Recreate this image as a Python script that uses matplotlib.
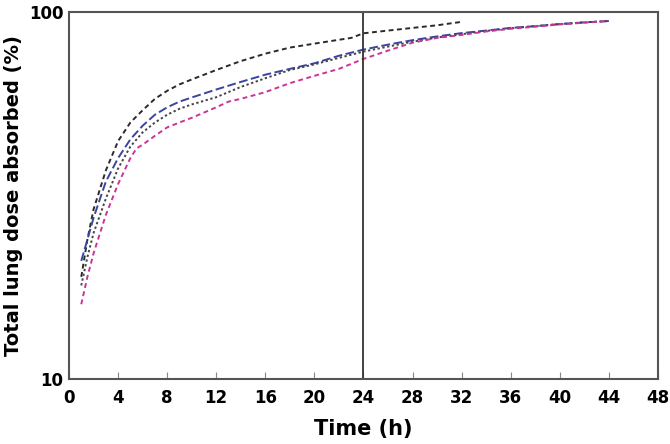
import matplotlib
matplotlib.use("Agg")
import matplotlib.pyplot as plt
from matplotlib.ticker import FixedLocator, NullLocator

plt.rcParams["font.family"] = ["DejaVu Sans"]
plt.rcParams["font.weight"] = "bold"

# time points (h) and % of total lung dose absorbed
t_a = [1, 1.5, 2, 3, 4, 5, 6, 7, 8, 9, 10, 12, 14, 16, 18, 20, 22, 23, 24, 26, 28, 30, 32]
dose_a = [19, 24, 29, 37, 44.5, 50, 54, 58, 61, 63.5, 65.5, 69.5, 73.5, 77, 80, 82, 84, 85,
          87.5, 89, 90.5, 92, 94]

t_b = [1, 1.5, 2, 3, 4, 5, 6, 7, 8, 9, 10, 12, 14, 16, 18, 20, 22, 24, 26, 28, 30, 32,
       34, 36, 38, 40, 42, 44]
dose_b = [21, 24, 27.5, 34.5, 40, 45, 49, 52.5, 55, 57, 58.5, 61.5, 64.5, 67.5, 70, 72.5,
          76, 79, 81.5, 83.8, 85.8, 87.6, 89, 90.5, 91.5, 92.7, 93.7, 94.5]

t_c = [1, 1.5, 2, 3, 4, 5, 6, 7, 8, 9, 10, 12, 14, 16, 18, 20, 22, 24, 26, 28, 30, 32,
       34, 36, 38, 40, 42, 44]
dose_c = [18, 21.5, 25, 31, 37.5, 43, 47, 50, 52.5, 54.5, 56, 58.6, 62.5, 66, 69.5, 72,
          75, 78, 80.5, 83, 85.2, 87, 88.8, 90.3, 91.5, 92.7, 93.7, 94.5]

t_d = [1, 1.5, 2, 3, 4, 5, 5.5, 6, 7, 8, 9, 10, 12, 13, 14, 16, 18, 20, 22, 24, 26, 28,
       30, 32, 34, 36, 38, 40, 42, 44]
dose_d = [16, 19, 22, 28, 34, 40, 42.5, 43.5, 46, 48.5, 50, 51.5, 55, 57, 58, 60.5, 64,
          67, 70, 74.5, 78.5, 82.5, 85, 86.6, 88.5, 90, 91.2, 92.5, 93.5, 94.5]

x_ticks = list(range(0, 49, 4))
y_ticks = [10, 100]

fig = plt.figure(figsize=(6.7, 4.44), dpi=100)
ax = fig.add_axes([0.103, 0.146, 0.879, 0.827])

ax.plot(t_a, dose_a, color="#2a2a2a", lw=1.4, dashes=(2.5, 1.8))
ax.plot(t_b, dose_b, color="#3b44a0", lw=1.4, dashes=(4.5, 1.8))
ax.plot(t_c, dose_c, color="#444444", lw=1.4, dashes=(1.2, 1.3))
ax.plot(t_d, dose_d, color="#cc3399", lw=1.4, dashes=(2.5, 1.8))

ax.axvline(24, color="#333333", lw=1.3)

ax.set_yscale("log")
ax.set_xlim(0, 48)
ax.set_ylim(10, 100)
ax.xaxis.set_major_locator(FixedLocator(x_ticks))
ax.yaxis.set_major_locator(FixedLocator(y_ticks))
ax.yaxis.set_minor_locator(NullLocator())
ax.set_yticklabels([str(v) for v in y_ticks])
ax.tick_params(axis="x", direction="in", length=5, width=0.8, color="#888888",
               labelsize=12, pad=7)
ax.tick_params(axis="y", length=0, labelsize=12, pad=4)

for s in ax.spines.values():
    s.set_color("#555555")
    s.set_linewidth(1.5)

ax.set_xlabel("Time (h)", fontsize=15, fontweight="bold", labelpad=9)
ax.set_ylabel("Total lung dose absorbed (%)", fontsize=14, fontweight="bold", labelpad=4)

fig.savefig("out.png", dpi=100)
